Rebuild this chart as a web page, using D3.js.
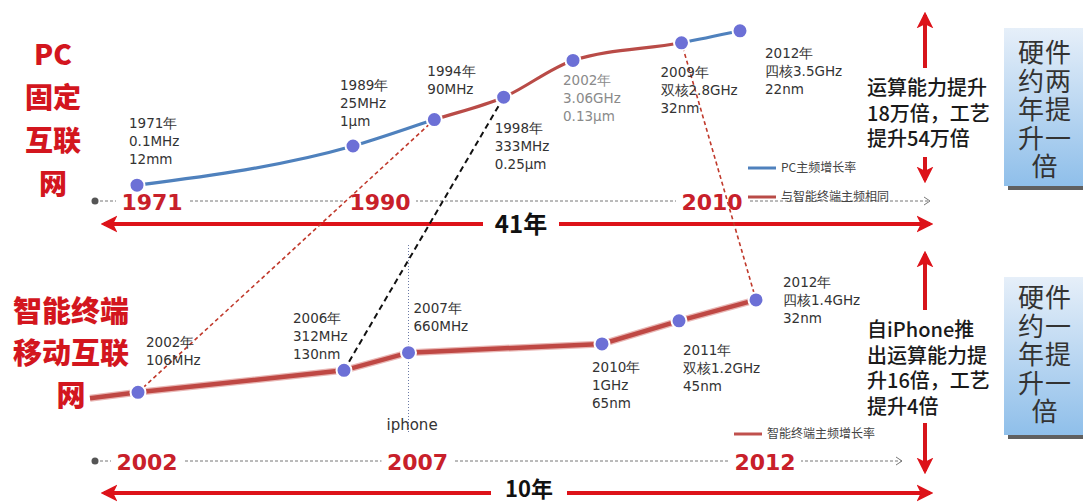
<!DOCTYPE html>
<html>
<head>
<meta charset="utf-8">
<script src="https://cdn.jsdelivr.net/npm/d3@7"></script>
<style>
  body { margin: 0; background: #fff; }
  text { font-family: "DejaVu Sans", sans-serif; }
  .cjk { font-family: "Noto Sans CJK SC", sans-serif; }
</style>
</head>
<body>
<div id="chart"></div>
<script>
// PC 主频
const pcYears = [1971, 1989, 1994, 1998, 2002, 2009, 2012];
const pcLevel = [3, 27.5, 44, 58, 81, 92, 99.5];
const pcLabels = [
  ["1971年", "0.1MHz", "12mm"],
  ["1989年", "25MHz", "1μm"],
  ["1994年", "90MHz"],
  ["1998年", "333MHz", "0.25μm"],
  ["2002年", "3.06GHz", "0.13μm"],
  ["2009年", "双核2.8GHz", "32nm"],
  ["2012年", "四核3.5GHz", "22nm"]
];
const pcMatched = [1994, 2009]; // 与智能终端主频相同的区间
const pcTicks = [1971, 1990, 2010];

// 智能终端主频
const mobYears = [2002, 2006, 2007, 2010, 2011, 2012];
const mobLevel = [7, 27, 43, 51, 72, 91];
const mobLabels = [
  ["2002年", "106MHz"],
  ["2006年", "312MHz", "130nm"],
  ["2007年", "660MHz"],
  ["2010年", "1GHz", "65nm"],
  ["2011年", "双核1.2GHz", "45nm"],
  ["2012年", "四核1.4GHz", "32nm"]
];
const mobTicks = [2002, 2007, 2012];
const iphoneYear = 2007;

// 对应关系 [智能终端年份, PC年份]
const links = [[2002, 1994], [2006, 1998], [2012, 2009]];

const pcSpan = "41年";
const mobSpan = "10年";
const pcNote = ["运算能力提升", "18万倍，工艺", "提升54万倍"];
const mobNote = ["自iPhone推", "出运算能力提", "升16倍，工艺", "提升4倍"];
const pcBox = ["硬件", "约两", "年提", "升一", "倍"];
const mobBox = ["硬件", "约一", "年提", "升一", "倍"];

const W = 1083, H = 503;
const svg = d3.select("#chart").append("svg")
  .attr("width", W).attr("height", H)
  .style("display", "block");

const defs = svg.append("defs");
const grad = defs.append("linearGradient").attr("id", "boxGrad")
  .attr("x1", 0).attr("y1", 0).attr("x2", 0).attr("y2", 1);
grad.append("stop").attr("offset", "0%").attr("stop-color", "#e6eff9");
grad.append("stop").attr("offset", "100%").attr("stop-color", "#8fbfea");

defs.append("marker").attr("id", "redHead")
  .attr("viewBox", "0 0 10 10").attr("refX", 8).attr("refY", 5)
  .attr("markerWidth", 4.2).attr("markerHeight", 4.6)
  .attr("markerUnits", "strokeWidth")
  .attr("orient", "auto-start-reverse")
  .append("path").attr("d", "M0,0 L10,5 L0,10 L2.5,5 Z").attr("fill", "#dd1219");

// scales (timeline is schematic, so piecewise)
const xTop = d3.scaleLinear().domain([1971, 1990, 2002, 2010, 2012]).range([137, 365, 573, 697, 740]);
const yTop = d3.scaleLinear().domain([0, 100]).range([190, 30]);
const xBot = d3.scaleLinear().domain([2002, 2006, 2010, 2012]).range([138, 344, 602, 756]);
const yBot = d3.scaleLinear().domain([0, 100]).range([400, 290]);

const pcPts = pcYears.map((y, i) => ({ year: y, x: xTop(y), y: yTop(pcLevel[i]), label: pcLabels[i] }));
const mobPts = mobYears.map((y, i) => ({ year: y, x: xBot(y), y: yBot(mobLevel[i]), label: mobLabels[i] }));

const red = "#d3161e";
const lineRed = "#b94b47";
const blue = "#4f81bd";

// 多行文字：一个 text + tspan
function multiline(sel, lines, x, lh) {
  lines.forEach((s, j) => {
    sel.append("tspan").attr("x", x).attr("dy", j === 0 ? 0 : lh).text(s);
  });
  return sel;
}

// ---- 左侧标题
const titleTop = svg.append("text").attr("class", "cjk").attr("y", 65)
  .attr("text-anchor", "middle").attr("font-size", 28).attr("font-weight", 900).attr("fill", red);
multiline(titleTop, ["PC", "固定", "互联", "网"], 53, 43);
const titleBot = svg.append("text").attr("class", "cjk").attr("y", 322)
  .attr("text-anchor", "middle").attr("font-size", 29).attr("font-weight", 900).attr("fill", red);
multiline(titleBot, ["智能终端", "移动互联", "网"], 71, 42);

// ---- 时间轴 (虚线)
function timeline(y, x0, x1, ticks, xs, dx) {
  const g = svg.append("g");
  g.append("circle").attr("cx", x0 - 5).attr("cy", y).attr("r", 3.5).attr("fill", "#555");
  g.append("line").attr("x1", x0).attr("x2", x1).attr("y1", y).attr("y2", y)
    .attr("stroke", "#777").attr("stroke-width", 1).attr("stroke-dasharray", "3,2");
  g.append("path").attr("d", `M${x1 - 6},${y - 4} L${x1},${y} L${x1 - 6},${y + 4}`)
    .attr("fill", "none").attr("stroke", "#777").attr("stroke-width", 1);
  ticks.forEach(t => {
    const tx = xs(t) + dx;
    g.append("rect").attr("x", tx - 36).attr("y", y - 12).attr("width", 72).attr("height", 24).attr("fill", "#fff");
    g.append("text").attr("x", tx).attr("y", y + 9).attr("text-anchor", "middle")
      .attr("font-family", "Liberation Sans, Arial, sans-serif")
      .attr("font-size", 22).attr("font-weight", 700).attr("fill", "#c8202a").text(t);
  });
}
timeline(201, 100, 930, pcTicks, xTop, 15);
timeline(461, 100, 902, mobTicks, xBot, 9);

// ---- 图例
function legend(x, y, color, label) {
  svg.append("line").attr("x1", x).attr("x2", x + 28).attr("y1", y).attr("y2", y)
    .attr("stroke", color).attr("stroke-width", 3);
  svg.append("text").attr("class", "cjk").attr("x", x + 33).attr("y", y + 4)
    .attr("font-size", 12).attr("fill", "#444").text(label);
}
legend(748, 168, blue, "PC主频增长率");
legend(748, 197, lineRed, "与智能终端主频相同");
legend(734, 434, "#c0504d", "智能终端主频增长率");

// ---- 横向双箭头
function spanArrow(y, label, cx, ty, fs) {
  const half = 38;
  svg.append("line").attr("x1", 104).attr("x2", cx - half).attr("y1", y).attr("y2", y)
    .attr("stroke", "#dd1219").attr("stroke-width", 4).attr("marker-start", "url(#redHead)");
  svg.append("line").attr("x1", cx + half).attr("x2", 930).attr("y1", y).attr("y2", y)
    .attr("stroke", "#dd1219").attr("stroke-width", 4).attr("marker-end", "url(#redHead)");
  svg.append("text").attr("class", "cjk").attr("x", cx).attr("y", ty)
    .attr("text-anchor", "middle").attr("font-size", fs).attr("font-weight", 700)
    .attr("fill", "#111").text(label);
}
spanArrow(224, pcSpan, 521, 233, 24);
spanArrow(493, mobSpan, 529, 497, 22);

// ---- 纵向箭头与说明
function note(x, yTopTip, yShaftA, lines, yFirst, yShaftB, yBotTip) {
  svg.append("line").attr("x1", x).attr("x2", x).attr("y1", yShaftA).attr("y2", yTopTip + 2)
    .attr("stroke", "#d7141a").attr("stroke-width", 4).attr("marker-end", "url(#redHead)");
  svg.append("line").attr("x1", x).attr("x2", x).attr("y1", yShaftB).attr("y2", yBotTip - 2)
    .attr("stroke", "#d7141a").attr("stroke-width", 4).attr("marker-end", "url(#redHead)");
  const t = svg.append("text").attr("class", "cjk").attr("y", yFirst)
    .attr("font-size", 20).attr("font-weight", 500).attr("fill", "#1a1a1a");
  multiline(t, lines, 867, 25.5);
}
note(925, 13, 68, pcNote, 95, 157, 182);
note(925, 252, 310, mobNote, 337, 423, 473);

// ---- 右侧方框
function box(y0, h, lines, firstY) {
  svg.append("rect").attr("x", 1008).attr("y", y0 + 4).attr("width", 90).attr("height", h)
    .attr("fill", "#2b2b2b").attr("opacity", 0.75);
  svg.append("rect").attr("x", 1004).attr("y", y0).attr("width", 90).attr("height", h)
    .attr("fill", "url(#boxGrad)");
  const t = svg.append("text").attr("class", "cjk").attr("y", firstY)
    .attr("text-anchor", "middle").attr("font-size", 26).attr("font-weight", 400)
    .attr("letter-spacing", 1).attr("fill", "#333");
  multiline(t, lines, 1045, 28.5);
}
box(28, 158, pcBox, 62);
box(277, 158, mobBox, 307);

// ---- iPhone 标记
const xi = xBot(iphoneYear);
svg.append("line").attr("x1", xi).attr("x2", xi).attr("y1", 245).attr("y2", 432)
  .attr("stroke", "#6b7aa6").attr("stroke-width", 1).attr("stroke-dasharray", "1,2");
svg.append("text").attr("x", xi - 22).attr("y", 430).attr("font-size", 15)
  .attr("fill", "#333").attr("font-family", "Lato, sans-serif").text("iphone");

// ---- 对应虚线
const pcByYear = new Map(pcPts.map(d => [d.year, d]));
const mobByYear = new Map(mobPts.map(d => [d.year, d]));
links.forEach((l, i) => {
  const a = mobByYear.get(l[0]), b = pcByYear.get(l[1]);
  const black = i === 1;
  svg.append("line").attr("x1", a.x).attr("y1", a.y).attr("x2", b.x).attr("y2", b.y)
    .attr("stroke", black ? "#111" : "#c0392b")
    .attr("stroke-width", black ? 2 : 1.6)
    .attr("stroke-dasharray", black ? "6,4" : "4,3");
});

// ---- PC 曲线 (整条曲线，按区间着色)
const curve = d3.line().x(d => d.x).y(d => d.y).curve(d3.curveMonotoneX);
const bands = [
  [0, xTop(pcMatched[0]), blue],
  [xTop(pcMatched[0]), xTop(pcMatched[1]), lineRed],
  [xTop(pcMatched[1]), W, blue]
];
bands.forEach((b, i) => {
  defs.append("clipPath").attr("id", "band" + i)
    .append("rect").attr("x", b[0]).attr("y", 0).attr("width", b[1] - b[0]).attr("height", 250);
  svg.append("path").attr("d", curve(pcPts)).attr("fill", "none")
    .attr("clip-path", `url(#band${i})`)
    .attr("stroke", b[2]).attr("stroke-width", 3.2).attr("stroke-linecap", "round");
});

// ---- 智能终端折线
const first = mobPts[0];
const mobPath = [{ x: first.x - 48, y: first.y + 6 }].concat(mobPts);
const straight = d3.line().x(d => d.x).y(d => d.y);
svg.append("path").attr("d", straight(mobPath))
  .attr("fill", "none").attr("stroke", "#e9b7b5").attr("stroke-width", 7);
svg.append("path").attr("d", straight(mobPath))
  .attr("fill", "none").attr("stroke", "#bf4844").attr("stroke-width", 4.5);

// ---- 点
svg.append("g").selectAll("circle").data(pcPts.concat(mobPts)).enter().append("circle")
  .attr("cx", d => d.x).attr("cy", d => d.y).attr("r", 7.5)
  .attr("fill", "#6c70d6").attr("stroke", "#fff").attr("stroke-width", 2);

// ---- 标签（偏移量）
const pcOff = [[-8, -57], [-13, -56], [-7, -44], [-9, 36], [-10, 25], [-21, 34], [25, 27]];
const mobOff = [[8, -45], [-51, -47], [5, -40], [-10, 28], [4, 34], [27, -13]];
function labels(pts, offs, greyIdx) {
  pts.forEach((d, i) => {
    const t = svg.append("text").attr("font-size", 13.5)
      .attr("fill", i === greyIdx ? "#8a8a8a" : "#333")
      .attr("x", d.x + offs[i][0]).attr("y", d.y + offs[i][1]);
    multiline(t, d.label, d.x + offs[i][0], 18);
  });
}
labels(pcPts, pcOff, 4);
labels(mobPts, mobOff, -1);
</script>
</body>
</html>
